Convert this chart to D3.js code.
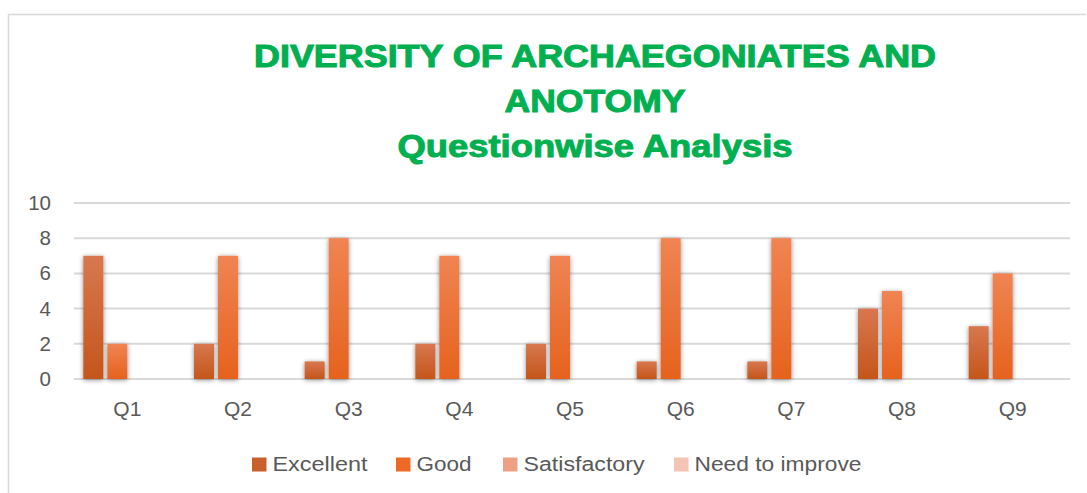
<!DOCTYPE html>
<html>
<head>
<meta charset="utf-8">
<script src="https://cdn.jsdelivr.net/npm/d3@7"></script>
<style>
  body { margin: 0; background: #fff; }
  svg { display: block; font-family: "Liberation Sans", Arial, sans-serif; }
</style>
</head>
<body>
<svg id="chart" width="1087" height="493"></svg>
<script>
// chart data
var categories = ["Q1", "Q2", "Q3", "Q4", "Q5", "Q6", "Q7", "Q8", "Q9"];
var seriesNames = ["Excellent", "Good", "Satisfactory", "Need to improve"];
var excellent = [7, 2, 1, 2, 2, 1, 1, 4, 3];
var good = [2, 7, 8, 7, 7, 8, 8, 5, 6];
var satisfactory = [0, 0, 0, 0, 0, 0, 0, 0, 0];
var needToImprove = [0, 0, 0, 0, 0, 0, 0, 0, 0];
var yTicks = [0, 2, 4, 6, 8, 10];
var titleLines = ["DIVERSITY OF ARCHAEGONIATES AND", "ANOTOMY", "Questionwise Analysis"];

var seriesValues = [excellent, good, satisfactory, needToImprove];
var colors = [
  {top: "#d8774f", bottom: "#c4561a", swatch: "#c95f2a"},
  {top: "#f08452", bottom: "#e6621e", swatch: "#ec6a24"},
  {top: "#f3a88a", bottom: "#e98e6a", swatch: "#efa084"},
  {top: "#f7cbbd", bottom: "#f0b8a5", swatch: "#f4c4b4"}
];

var svg = d3.select("#chart");
var margin = {left: 74, right: 17};
var W = 1087;

// outer frame
svg.append("path")
  .attr("d", "M8.5,493 L8.5,14.5 L1086,14.5")
  .attr("fill", "none").attr("stroke", "#d9d9d9").attr("stroke-width", 1.5);

var defs = svg.append("defs");
var f = defs.append("filter").attr("id", "shadow")
  .attr("x", "-50%").attr("y", "-10%").attr("width", "200%").attr("height", "120%");
f.append("feGaussianBlur").attr("in", "SourceAlpha").attr("stdDeviation", 2.5);
f.append("feOffset").attr("dx", 0).attr("dy", 1).attr("result", "b");
f.append("feComponentTransfer").append("feFuncA").attr("type", "linear").attr("slope", 0.45);
var fm = f.append("feMerge");
fm.append("feMergeNode");
fm.append("feMergeNode").attr("in", "SourceGraphic");

colors.forEach(function(c, i) {
  var g = defs.append("linearGradient").attr("id", "grad" + i)
    .attr("x1", 0).attr("y1", 0).attr("x2", 0).attr("y2", 1);
  g.append("stop").attr("offset", "0%").attr("stop-color", c.top);
  g.append("stop").attr("offset", "100%").attr("stop-color", c.bottom);
});

// title (widths)
var titleWidths = [682, 181, 395];
var title = svg.append("g").attr("fill", "#00b050").attr("font-weight", "bold")
  .attr("stroke", "#00b050").attr("stroke-width", 1)
  .attr("text-anchor", "middle").attr("font-size", 30.5);
title.selectAll("text").data(titleLines).enter().append("text")
  .attr("x", 595)
  .attr("y", function(d, i) { return 67 + i * 45; })
  .attr("textLength", function(d, i) { return titleWidths[i]; })
  .attr("lengthAdjust", "spacingAndGlyphs")
  .text(function(d) { return d; });

var x = d3.scaleBand().domain(categories).range([margin.left, W - margin.right]);
var y = d3.scaleLinear().domain([0, 10]).range([379, 203]);

// gridlines
svg.append("g").selectAll("line").data(yTicks).enter().append("line")
  .attr("x1", margin.left).attr("x2", W - margin.right)
  .attr("y1", function(d) { return y(d); }).attr("y2", function(d) { return y(d); })
  .attr("stroke", "#d9d9d9").attr("stroke-width", 2);

// y axis labels
var yAxis = svg.append("g").attr("transform", "translate(59,0)")
  .call(d3.axisLeft(y).tickValues(yTicks).tickSize(0).tickPadding(8));
yAxis.select(".domain").remove();
yAxis.selectAll("text").attr("font-size", 20.5).attr("fill", "#595959")
  .attr("font-family", "Liberation Sans, Arial, sans-serif");

// x axis labels
var xAxis = svg.append("g").attr("transform", "translate(-2,400)")
  .call(d3.axisBottom(x).tickSize(0).tickPadding(0));
xAxis.select(".domain").remove();
xAxis.selectAll("text").attr("font-size", 21).attr("fill", "#595959").attr("dy", "0.75em")
  .attr("font-family", "Liberation Sans, Arial, sans-serif");

// bars
var barW = 20, barGap = 4;
var groupW = seriesNames.length * barW + (seriesNames.length - 1) * barGap;
var bars = svg.append("g");
seriesValues.forEach(function(vals, s) {
  var data = vals.map(function(v, i) { return {cat: categories[i], v: v}; })
    .filter(function(d) { return d.v > 0; });
  bars.append("g").attr("filter", "url(#shadow)")
    .selectAll("rect").data(data).enter().append("rect")
    .attr("x", function(d) { return x(d.cat) + (x.bandwidth() - groupW) / 2 + s * (barW + barGap); })
    .attr("y", function(d) { return y(d.v); })
    .attr("width", barW)
    .attr("height", function(d) { return y(0) - y(d.v); })
    .attr("fill", "url(#grad" + s + ")");
});

// legend
var legendX = [252, 396, 503, 674];
var legendTextW = [95, 55, 121, 167];
var legend = svg.append("g");
seriesNames.forEach(function(name, i) {
  var lg = legend.append("g").attr("transform", "translate(" + legendX[i] + ",457.5)");
  lg.append("rect").attr("width", 14.5).attr("height", 14).attr("fill", colors[i].swatch);
  lg.append("text").attr("x", 20.5).attr("y", 13.5).attr("font-size", 20).attr("fill", "#595959")
    .attr("textLength", legendTextW[i]).attr("lengthAdjust", "spacingAndGlyphs")
    .text(name);
});
</script>
</body>
</html>
